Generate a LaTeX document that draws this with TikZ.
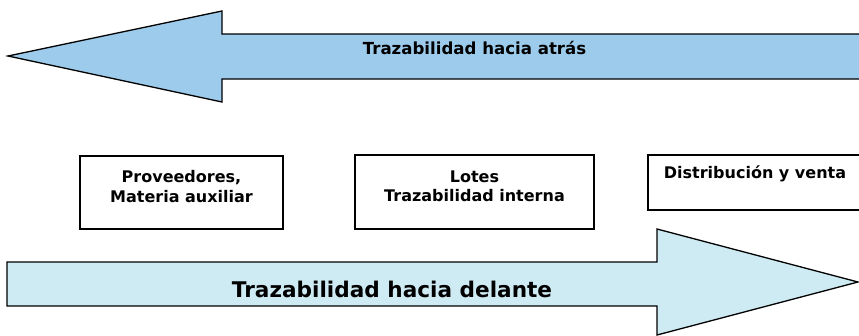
\documentclass[tikz,border=0pt]{standalone}
\usepackage{fontspec}
\setmainfont{DejaVu Sans}
\begin{document}
\begin{tikzpicture}[x=1pt,y=-1pt,
  arrowshape/.style={draw=black,line width=1.3pt,line join=miter},
  boxstyle/.style={draw=black,line width=1.4pt,fill=white,inner sep=0pt},
  boxtext/.style={font=\bfseries\fontsize{16}{19.5}\selectfont,align=center,inner sep=0pt}]
\useasboundingbox (0,0) rectangle (859,335);
% top arrow (backwards)
\fill[fill={rgb,255:red,157;green,203;blue,236}] (8,56) -- (222,11) -- (222,34) -- (862,34) -- (862,79) -- (222,79) -- (222,102) -- cycle;
\draw[arrowshape] (862,34) -- (222,34) -- (222,11) -- (8,56) -- (222,102) -- (222,79) -- (862,79);
\node[font=\bfseries\fontsize{16.6}{20}\selectfont,inner sep=0pt] (atras) at (474.5,48) {Trazabilidad hacia atrás};
% boxes
\node[boxstyle,minimum width=203pt,minimum height=73pt] (prov) at (181.5,192.5) {};
\node[boxtext] (provt) at (181.5,186.5) {Proveedores,\\Materia auxiliar};
\node[boxstyle,minimum width=239pt,minimum height=74pt] (lotes) at (474.5,192) {};
\node[boxtext] (lotest) at (474.5,186.5) {Lotes\\Trazabilidad interna};
\node[boxstyle,minimum width=215pt,minimum height=55pt] (dist) at (755.5,182.5) {};
\node[boxtext] (distt) at (755,174) {Distribución y venta};
% bottom arrow (forwards)
\draw[arrowshape,fill={rgb,255:red,206;green,235;blue,244}] (7,262) -- (657,262) -- (657,229) -- (858,282) -- (657,335) -- (657,306) -- (7,306) -- cycle;
\node[font=\bfseries\fontsize{21.6}{26}\selectfont,inner sep=0pt] (delante) at (392,289) {Trazabilidad hacia delante};
\end{tikzpicture}
\end{document}
